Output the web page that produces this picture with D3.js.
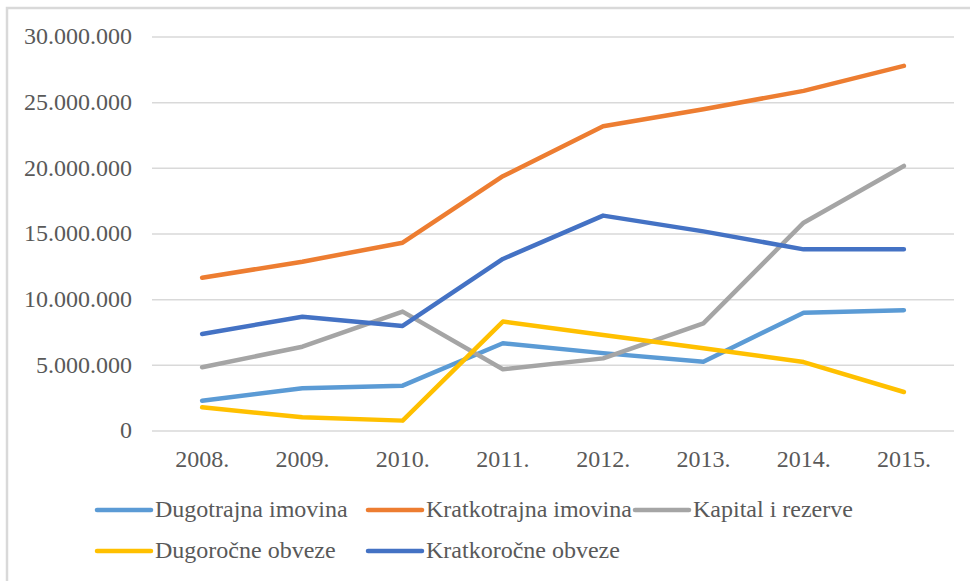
<!DOCTYPE html>
<html>
<head>
<meta charset="utf-8">
<script src="https://cdn.jsdelivr.net/npm/d3@7"></script>
<style>
  body { margin: 0; background: #fff; }
  #chart { position: relative; width: 970px; height: 581px; overflow: hidden; }
  #chart svg { position: absolute; left: 0; top: 0; }
  .lbl {
    position: absolute;
    font-family: 'Liberation Serif', 'Times New Roman', serif;
    font-size: 24px;
    line-height: 24px;
    color: #595959;
    white-space: nowrap;
  }
</style>
</head>
<body>
<div id="chart"></div>
<script>
// years on the x axis
var years = ['2008.', '2009.', '2010.', '2011.', '2012.', '2013.', '2014.', '2015.'];

// series values
var dugotrajnaImovina = [2310000, 3250000, 3450000, 6680000, 5930000, 5280000, 9000000, 9200000];
var kratkotrajnaImovina = [11670000, 12890000, 14340000, 19400000, 23200000, 24500000, 25900000, 27800000];
var kapitalIRezerve = [4850000, 6420000, 9090000, 4700000, 5530000, 8200000, 15860000, 20180000];
var dugorocneObveze = [1800000, 1040000, 790000, 8330000, 7310000, 6300000, 5250000, 2970000];
var kratkorocneObveze = [7390000, 8700000, 8000000, 13100000, 16400000, 15200000, 13830000, 13830000];

var yTicks = [0, 5000000, 10000000, 15000000, 20000000, 25000000, 30000000];

var seriesNames = ['Dugotrajna imovina', 'Kratkotrajna imovina', 'Kapital i rezerve', 'Dugoročne obveze', 'Kratkoročne obveze'];
var seriesColors = ['#5B9BD5', '#ED7D31', '#A5A5A5', '#FFC000', '#4472C4'];

var allSeries = [dugotrajnaImovina, kratkotrajnaImovina, kapitalIRezerve, dugorocneObveze, kratkorocneObveze];

var width = 970, height = 581;
var plot = { left: 152, right: 954, top: 37, bottom: 431 };
var baseline = 20.1; // distance from top of label box to text baseline

var container = d3.select('#chart');

var svg = container
	.append('svg')
		.attr('width', width)
		.attr('height', height);

// outer frame
svg.append('rect')
	.attr('x', 7)
	.attr('y', 8)
	.attr('width', width + 20)
	.attr('height', height + 20)
	.style('fill', 'none')
	.style('stroke', '#d9d9d9')
	.style('stroke-width', 2.5);

var x = d3.scaleBand()
	.domain(years)
	.range([plot.left, plot.right]);

var y = d3.scaleLinear()
	.domain([0, 30000000])
	.range([plot.bottom, plot.top]);

var fmt = d3.formatLocale({ decimal: ',', thousands: '.', grouping: [3], currency: ['', ''] }).format(',d');

// gridlines
svg.append('g')
	.selectAll('line')
	.data(yTicks)
	.join('line')
		.attr('x1', plot.left)
		.attr('x2', plot.right)
		.attr('y1', d => y(d))
		.attr('y2', d => y(d))
		.style('stroke', '#d9d9d9')
		.style('stroke-width', 1.5);

// y labels
container.selectAll('.ylbl')
	.data(yTicks)
	.join('div')
		.attr('class', 'lbl ylbl')
		.style('right', (width - 132) + 'px')
		.style('top', d => (y(d) + 7.5 - baseline) + 'px')
		.text(d => fmt(d));

// x labels
container.selectAll('.xlbl')
	.data(years)
	.join('div')
		.attr('class', 'lbl xlbl')
		.style('left', d => (x(d) + x.bandwidth() / 2) + 'px')
		.style('top', (467 - baseline) + 'px')
		.style('transform', 'translateX(-50%)')
		.text(d => d);

var line = d3.line()
	.x((d, i) => x(years[i]) + x.bandwidth() / 2)
	.y(d => y(d));

svg.append('g')
	.selectAll('path')
	.data(allSeries)
	.join('path')
		.attr('d', d => line(d))
		.style('fill', 'none')
		.style('stroke', (d, i) => seriesColors[i])
		.style('stroke-width', 4.5)
		.style('stroke-linecap', 'round')
		.style('stroke-linejoin', 'round');

// legend
var legendCols = [97, 368, 635];
var legendRows = [510, 551];

svg.append('g')
	.selectAll('line')
	.data(seriesNames)
	.join('line')
		.attr('x1', (d, i) => legendCols[i % 3])
		.attr('x2', (d, i) => legendCols[i % 3] + 54)
		.attr('y1', (d, i) => legendRows[Math.floor(i / 3)])
		.attr('y2', (d, i) => legendRows[Math.floor(i / 3)])
		.style('stroke', (d, i) => seriesColors[i])
		.style('stroke-width', 4.5)
		.style('stroke-linecap', 'round');

container.selectAll('.leglbl')
	.data(seriesNames)
	.join('div')
		.attr('class', 'lbl leglbl')
		.style('left', (d, i) => (legendCols[i % 3] + 58) + 'px')
		.style('top', (d, i) => (legendRows[Math.floor(i / 3)] + 7 - baseline) + 'px')
		.text(d => d);
</script>
</body>
</html>
